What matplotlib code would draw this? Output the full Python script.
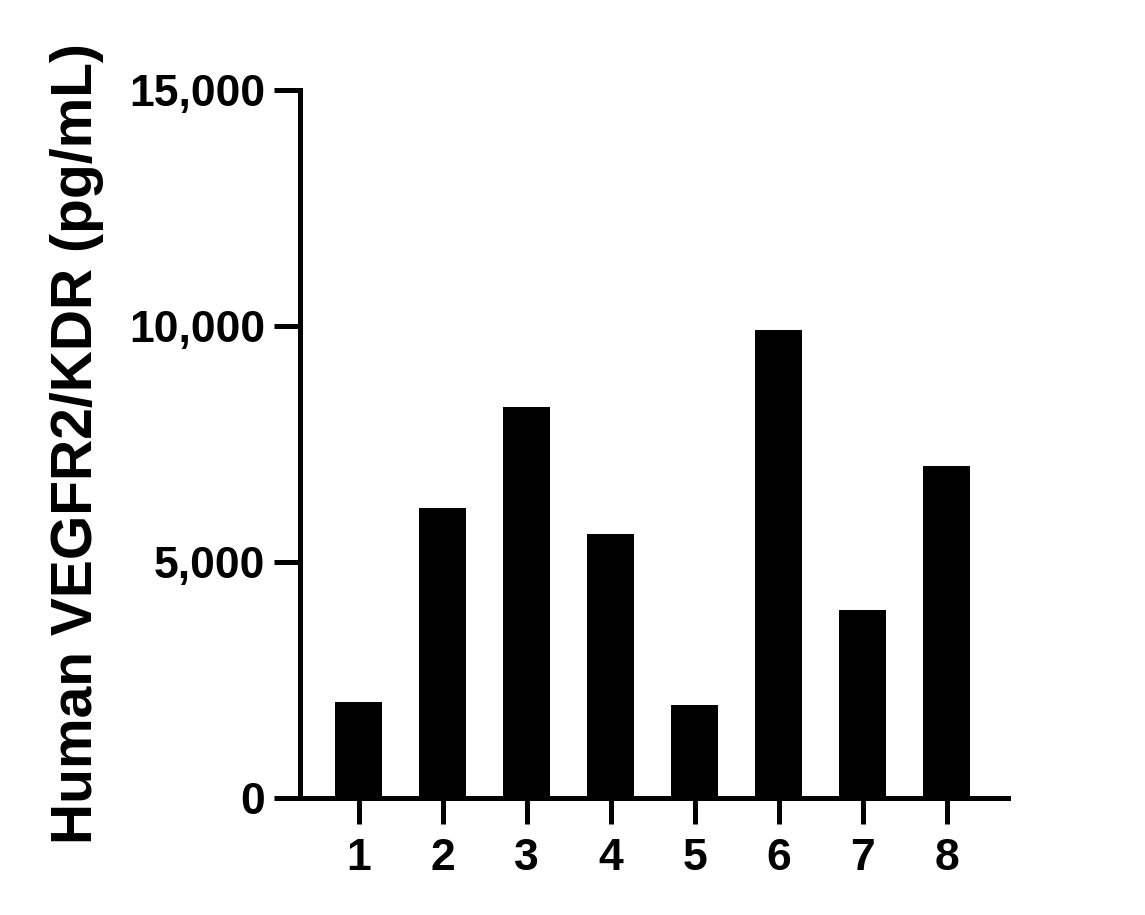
import matplotlib
matplotlib.use("Agg")
import matplotlib.pyplot as plt
from matplotlib.ticker import FuncFormatter

samples = ["1", "2", "3", "4", "5", "6", "7", "8"]
values = [2040, 6150, 8290, 5600, 1970, 9920, 3990, 7040]

plt.rcParams['font.family'] = ['Liberation Sans', 'DejaVu Sans']
plt.rcParams['font.weight'] = 'bold'

fig = plt.figure(figsize=(11.45, 9.15), dpi=100)
ax = fig.add_axes([300/1145, 1-798/915, 708/1145, 708/915])

pos = list(range(1, len(samples)+1))
ax.bar(pos, values, width=0.56, color='black')

ax.set_xlim(0.3, 8.73)
ax.set_ylim(0, 15000)
ax.set_xticks(pos)
ax.set_xticklabels(samples)
ax.set_yticks([0, 5000, 10000, 15000])
ax.yaxis.set_major_formatter(FuncFormatter(lambda v, p: '{:,.0f}'.format(v)))

for s in ['top', 'right']:
    ax.spines[s].set_visible(False)
for s in ['left', 'bottom']:
    ax.spines[s].set_linewidth(3.6)
ax.tick_params(width=3.6, length=19, labelsize=32, pad=6)
ax.tick_params(axis='x', pad=10)
for lab in ax.get_xticklabels() + ax.get_yticklabels():
    lab.set_fontweight('bold')

ax.set_ylabel('Human VEGFR2/KDR (pg/mL)', fontsize=41, fontweight='bold', labelpad=18)

fig.savefig('out.png', dpi=100)
